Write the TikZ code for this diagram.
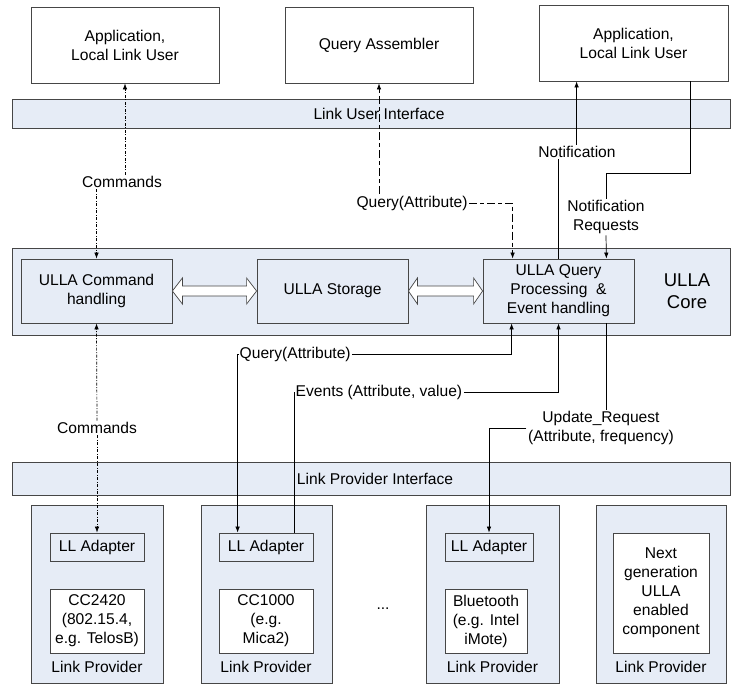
\documentclass[tikz,border=0pt]{standalone}
\usepackage{fontspec}
\setmainfont{Liberation Sans}
\usetikzlibrary{arrows.meta,calc}
\definecolor{panel}{RGB}{230,236,246}
\definecolor{edge}{RGB}{70,70,70}
\begin{document}
\begin{tikzpicture}[x=1pt,y=-1pt,
  every node/.style={font=\fontsize{15.6}{19}\selectfont, align=center},
  box/.style 2 args={draw=edge, line width=0.8pt, inner sep=0pt,
    minimum width=#1, minimum height=#2},
  whitebox/.style 2 args={box={#1}{#2}, fill=white},
  bluebox/.style 2 args={box={#1}{#2}, fill=panel},
  lbl/.style={inner sep=1.5pt},
  ln/.style={line width=0.7pt, black},
  cmdln/.style={ln, dash pattern=on 3pt off 1.5pt on 1pt off 1.5pt},
  qdash/.style={ln, dash pattern=on 8pt off 3pt on 4pt off 3pt},
  tip/.tip={Latex[length=6pt,width=4.5pt]},
  dblarrow/.style={draw=edge, line width=0.7pt, fill=white}
]
\useasboundingbox (0,0) rectangle (736,684);

% ---- upper layer: link users
\node[whitebox={188}{76}] (app1) at (125,45) {Application,\\Local Link User};
\node[whitebox={188}{76}] (qa) at (379,45) {Query Assembler};
\node[whitebox={189}{76}] (app2) at (633.5,43) {Application,\\Local Link User};

% ---- interface bands
\node[bluebox={718}{29}] (lui) at (371,113.5) {};
\node (luiT) at (379,113.5) {Link User Interface};

% ---- ULLA core
\node[bluebox={718}{87}] (core) at (371,291.5) {};
\node[bluebox={151}{64}] (cmd) at (96.5,291) {ULLA Command\\handling};
\node[bluebox={151}{64}] (stor) at (332.5,291) {ULLA Storage};
\node[bluebox={151}{64}] (qry) at (558.5,291) {ULLA Query\\Processing\ \ \&\\Event handling};
\node[font=\fontsize{18.5}{22}\selectfont] (coreT) at (687,291) {ULLA\\Core};

% hollow double arrows between the core blocks
\draw[dblarrow] (cmd.east) -- ++(10,-13) -- ++(0,8) -- ($(stor.west)+(-10,-5)$)
  -- ++(0,-8) -- (stor.west) -- ++(-10,13) -- ++(0,-8) -- ($(cmd.east)+(10,5)$)
  -- ++(0,8) -- cycle;
\draw[dblarrow] (stor.east) -- ++(9,-13) -- ++(0,8) -- ($(qry.west)+(-9,-5)$)
  -- ++(0,-8) -- (qry.west) -- ++(-9,13) -- ++(0,-8) -- ($(stor.east)+(9,5)$)
  -- ++(0,8) -- cycle;

\node[bluebox={718}{33}] (lpi) at (371,478.5) {};
\node (lpiT) at (375,478.5) {Link Provider Interface};

% ---- link providers
\node[bluebox={132}{178}] (p1) at (97,594) {};
\node[bluebox={94}{28}] (ad1) at (97,547) {LL Adapter};
\node[whitebox={94}{64}] (ch1) at (97,621) {CC2420\\(802.15.4,\\e.g. TelosB)};
\node (lp1) at (97,667) {Link Provider};

\node[bluebox={131}{178}] (p2) at (266.5,594) {};
\node[bluebox={94}{28}] (ad2) at (266,547) {LL Adapter};
\node[whitebox={94}{64}] (ch2) at (266,621) {CC1000\\(e.g.\\Mica2)};
\node (lp2) at (266,667) {Link Provider};

\node (dots) at (383,609) {...};

\node[bluebox={133}{178}] (p3) at (492.5,594) {};
\node[bluebox={88}{28}] (ad3) at (489,547) {LL Adapter};
\node[whitebox={82}{64}] (ch3) at (486,621) {Bluetooth\\(e.g. Intel\\iMote)};
\node (lp3) at (492.5,667) {Link Provider};

\node[bluebox={130}{178}] (p4) at (661,594) {};
\node[whitebox={96}{120}] (ch4) at (661,593) {Next\\generation\\ULLA\\enabled\\component};
\node (lp4) at (661,667) {Link Provider};

% ---- anchor points on the block edges
\coordinate (a2L) at ($(app2.south west)+(38,0)$);
\coordinate (a2R) at ($(app2.south east)+(-38,0)$);
\coordinate (qN1) at ($(qry.north west)+(30,0)$);
\coordinate (qN3) at ($(qry.north east)+(-28,0)$);
\coordinate (qS1) at ($(qry.south west)+(29,0)$);
\coordinate (qS3) at ($(qry.south east)+(-28,0)$);
\coordinate (d2a) at ($(ad2.north west)+(19,0)$);
\coordinate (d2b) at ($(ad2.north east)+(-19,0)$);

% ---- commands (upper)
\node[lbl] (cmdU) at (122,182) {Commands};
\draw[cmdln,-tip] (cmd.north |- cmdU.south) -- (cmd.north);
\draw[cmdln,-tip] (app1.south |- cmdU.north) -- (app1.south);

% ---- commands (lower)
\node[lbl] (cmdD) at (97,428) {Commands};
\draw[cmdln,-tip] (cmdD.north) -- (cmd.south);
\draw[cmdln,-tip] (cmdD.south) -- (ad1.north);

% ---- query from the assembler
\node[lbl] (qU) at (412,203) {Query(Attribute)};
\draw[qdash,-tip] (qa.south |- qU.north) -- (qa.south);
\draw[qdash,-tip] (qU.east) -| (qN1);

% ---- notification
\node[lbl] (nt) at (577,152) {Notification};
\draw[ln] (qry.north) -- (qry.north |- nt.south);
\draw[ln,-tip] (a2L |- nt.north) -- (a2L);

% ---- notification requests
\node[lbl] (nr) at (606,217) {Notification\\Requests};
\draw[ln] (a2R) -- ++(0,92) -| (nr.north);
\draw[ln,-tip] (nr.south) -- (qN3);

% ---- query towards the providers
\node[lbl, anchor=west] (qD) at (238,354) {Query(Attribute)};
\draw[ln,-tip] (qD.west) -| (d2a);
\draw[ln,-tip] (qD.east) -| (qS1);

% ---- events
\node[lbl, anchor=west] (ev) at (294,392) {Events (Attribute, value)};
\draw[ln] (ev.west) -| (d2b);
\draw[ln,-tip] (ev.east) -| (qry.south);

% ---- update request
\node[lbl] (up) at (601,428) {Update\_Request\\(Attribute, frequency)};
\draw[ln] (qS3) -- (qS3 |- up.north);
\draw[ln,-tip] (up.west) -| (ad3.north);

\end{tikzpicture}
\end{document}
